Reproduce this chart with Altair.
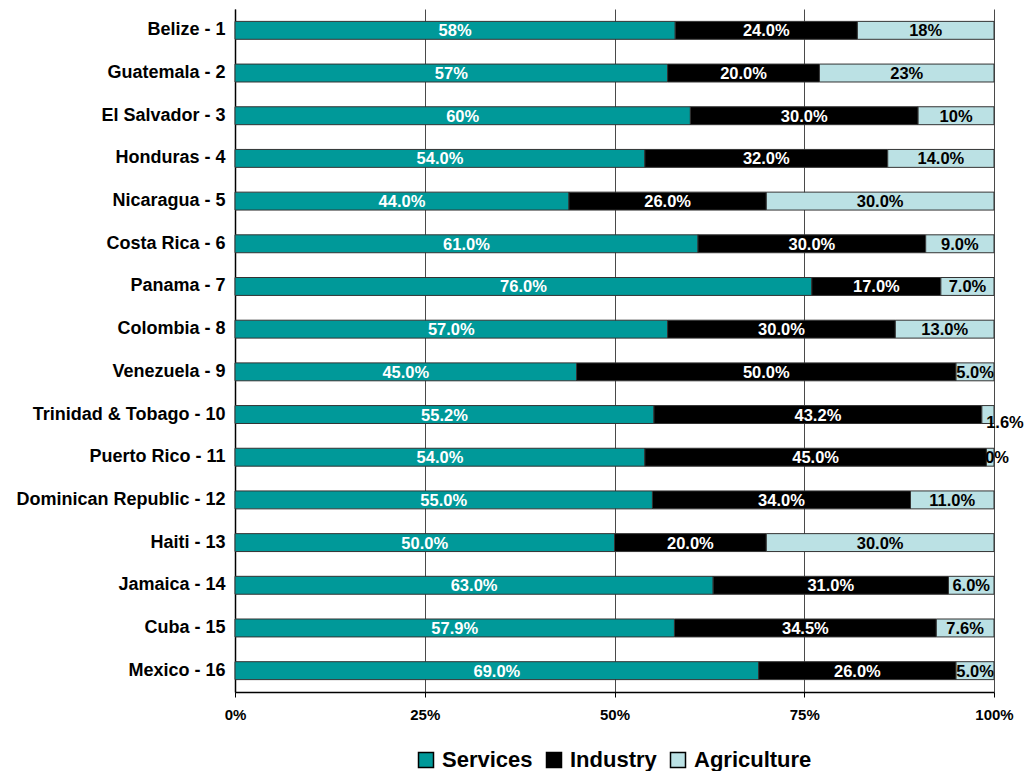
import altair as alt
import pandas as pd

countries = ["Belize - 1", "Guatemala - 2", "El Salvador - 3", "Honduras - 4", "Nicaragua - 5",
             "Costa Rica - 6", "Panama - 7", "Colombia - 8", "Venezuela - 9 ", "Trinidad & Tobago - 10",
             "Puerto Rico - 11", "Dominican Republic - 12", "Haiti - 13", "Jamaica - 14", "Cuba - 15",
             "Mexico - 16"]
services = [58, 57, 60, 54, 44, 61, 76, 57, 45, 55.2, 54, 55, 50, 63, 57.9, 69]
industry = [24, 20, 30, 32, 26, 30, 17, 30, 50, 43.2, 45, 34, 20, 31, 34.5, 26]
agriculture = [18, 23, 10, 14, 30, 9, 7, 13, 5, 1.6, 1.0, 11, 30, 6, 7.6, 5]
services_lbl = ["58%", "57%", "60%", "54.0%", "44.0%", "61.0%", "76.0%", "57.0%", "45.0%", "55.2%",
                "54.0%", "55.0%", "50.0%", "63.0%", "57.9%", "69.0%"]
industry_lbl = ["24.0%", "20.0%", "30.0%", "32.0%", "26.0%", "30.0%", "17.0%", "30.0%", "50.0%", "43.2%",
                "45.0%", "34.0%", "20.0%", "31.0%", "34.5%", "26.0%"]
agriculture_lbl = ["18%", "23%", "10%", "14.0%", "30.0%", "9.0%", "7.0%", "13.0%", "5.0%", "1.6%",
                   "1.0%", "11.0%", "30.0%", "6.0%", "7.6%", "5.0%"]
sectors = ["Services", "Industry", "Agriculture"]
colors = ["#009999", "#000000", "#BBE1E4"]
text_colors = ["#FFFFFF", "#FFFFFF", "#000000"]
shifted_label = "Trinidad & Tobago - 10"

rows = []
for i, c in enumerate(countries):
    start = 0.0
    for s, vals, lbls, tc in zip(sectors, [services, industry, agriculture],
                                 [services_lbl, industry_lbl, agriculture_lbl], text_colors):
        v = vals[i] / 100.0
        rows.append({"country": c, "sector": s, "start": start, "end": start + v,
                     "mid": start + v / 2, "label": lbls[i], "tcolor": tc,
                     "outside": (c == shifted_label and s == "Agriculture")})
        start += v
df = pd.DataFrame(rows)

font = "Liberation Sans"

y_enc = alt.Y("country:N", sort=countries, title=None,
              scale=alt.Scale(paddingInner=0.58, paddingOuter=0.29),
              axis=alt.Axis(labelFont=font, labelFontSize=18, labelFontWeight="bold",
                            labelColor="#000", ticks=False, domainColor="#000",
                            labelPadding=10, labelLimit=400))

bars = alt.Chart(df).mark_bar(stroke="#333333", strokeWidth=1).encode(
    x=alt.X("start:Q", scale=alt.Scale(domain=[0, 1], nice=False), title=None,
            axis=alt.Axis(values=[0, 0.25, 0.5, 0.75, 1], format=".0%", labelFont=font,
                          labelFontSize=15, labelFontWeight="bold", labelColor="#000",
                          labelFlush=False,
                          domainColor="#000", tickColor="#000", tickSize=5, labelPadding=10,
                          gridColor="#4a4a4a", gridWidth=1, gridOpacity=1)),
    x2="end:Q",
    y=y_enc,
    color=alt.Color("sector:N", sort=sectors,
                    scale=alt.Scale(domain=sectors, range=colors),
                    legend=alt.Legend(title=None, orient="none", direction="horizontal",
                                      legendX=180, legendY=740,
                                      labelFont=font, labelFontSize=22, labelFontWeight="bold",
                                      labelColor="#000", symbolType="square", symbolSize=225,
                                      symbolStrokeColor="#000", symbolStrokeWidth=1.5,
                                      columnPadding=10, symbolOffset=0, labelOffset=5)),
)

text_base = alt.Chart(df).encode(
    x="mid:Q",
    y=alt.Y("country:N", sort=countries),
    text="label:N",
    color=alt.Color("tcolor:N", scale=None),
)

text = text_base.mark_text(font=font, fontSize=16.5, fontWeight="bold", baseline="middle",
                           align="center", dy=1).transform_filter("!datum.outside")

text_out = text_base.mark_text(font=font, fontSize=16.5, fontWeight="bold", baseline="middle",
                               align="center", dx=17, dy=8).transform_filter("datum.outside")

chart = (bars + text + text_out).properties(
    width=759, height=683,
    autosize=alt.AutoSizeParams(type="none"),
    padding={"left": 235, "top": 9, "right": 34, "bottom": 79},
).configure_view(stroke=None).configure_axis(domainWidth=1.5)

chart.save("out.html", embed_options={"renderer": "svg", "actions": False})
